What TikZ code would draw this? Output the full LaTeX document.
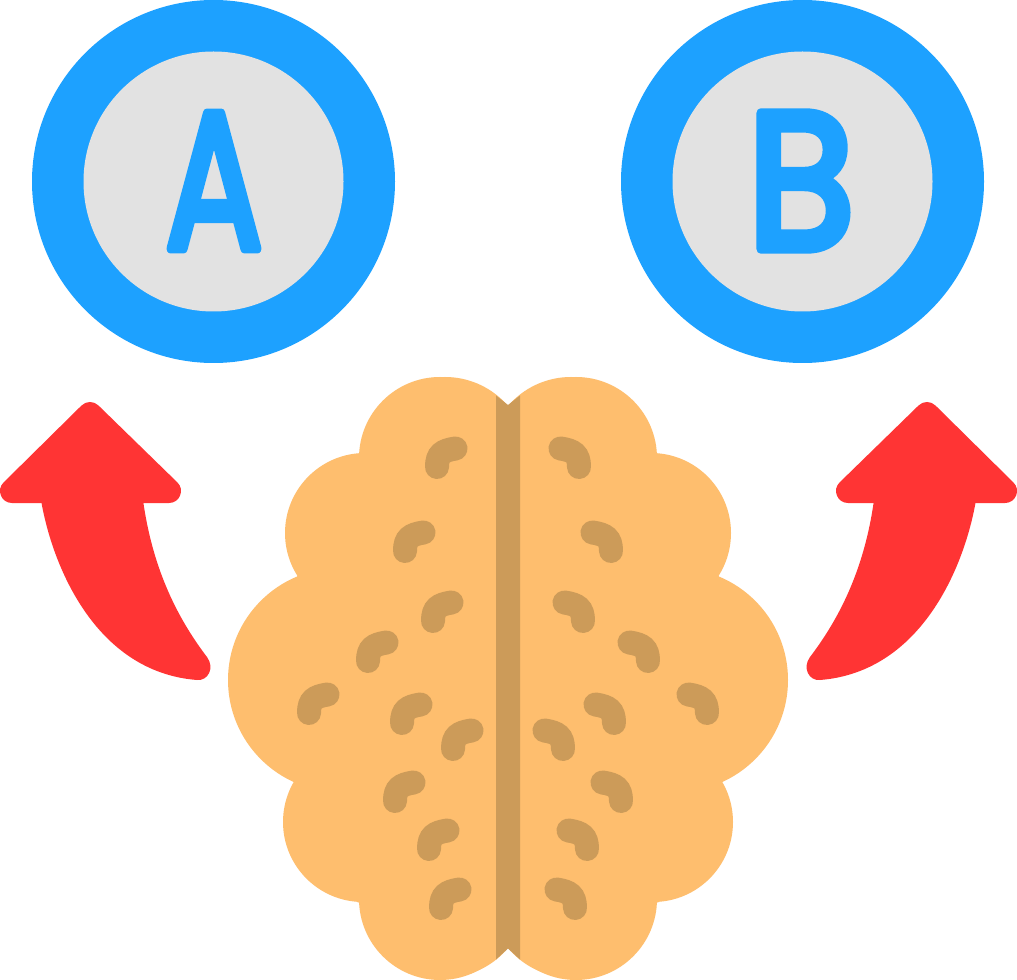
\documentclass[tikz,border=0pt]{standalone}
\usepackage{fontspec}
\newfontfamily\letterfont[FakeBold=5]{Poppins}
\definecolor{ringblue}{HTML}{1DA1FF}
\definecolor{discgray}{HTML}{E2E2E2}
\definecolor{brainbase}{HTML}{FEBE6E}
\definecolor{braindark}{HTML}{CC9B59}
\definecolor{arrowcol}{HTML}{FF3434}
\tikzset{
  ring/.style={fill=ringblue},
  disc/.style={fill=discgray},
  brainfill/.style={fill=brainbase},
  grooveband/.style={fill=braindark},
  bean/.style={draw=braindark,line width=18pt,line cap=round},
  arrowbody/.style={fill=arrowcol},
  arrowhead/.style={fill=arrowcol,draw=arrowcol,line width=18pt,line join=round},
  letter/.style={text=ringblue,inner sep=0pt,font=\fontsize{146}{146}\letterfont},
}
\newcommand{\brainhalf}{%
  \fill[brainfill] (440,458) circle[radius=81];
  \fill[brainfill] (445,460) circle[radius=83];
  \fill[brainfill] (365,533) circle[radius=80];
  \fill[brainfill] (340,680) circle[radius=112];
  \fill[brainfill] (363,822) circle[radius=80];
  \fill[brainfill] (440,899) circle[radius=81];
  \fill[brainfill] (445,895.5) circle[radius=82];
  \fill[brainfill] (508,405) -- (359,453) -- (297,577) -- (295,780) -- (357,902) -- (508,948) -- cycle;
  \foreach \x/\y in {437/467,405/551,433/621,368/661,309/713,402/723,453/749,395/801,429/849,441/908}{
    \draw[bean] (\x,\y) .. controls +(0,-13) and +(-13,2) .. +(18.5,-18.5);
  }
}
\newcommand{\redarrow}{%
  \fill[arrowbody] (41,500) .. controls (52,565) and (95,672) .. (197,680)
    .. controls (208,681) and (215,668) .. (207,657)
    .. controls (175,615) and (152,565) .. (143,500) -- cycle;
  \filldraw[arrowhead] (90,414) -- (12,491) -- (169,491) -- cycle;
}
\begin{document}
\begin{tikzpicture}[x=0.75pt,y=-0.75pt]
\useasboundingbox (0,0) rectangle (1017,980);
\fill[white] (0,0) rectangle (1017,980);
% discs
\fill[ring] (213.5,181.5) circle[radius=181.5];
\fill[disc] (213.5,181.5) circle[radius=130];
\fill[ring] (802.5,181.5) circle[radius=181.5];
\fill[disc] (802.5,181.5) circle[radius=130];
\node[letter,xscale=0.74] (letterA) at (214,181) {\special{pdf:code 1 j}A};
\node[letter,xscale=0.9] (letterB) at (801,181) {\special{pdf:code 1 j}B};
% arrows
\redarrow
\begin{scope}[shift={(1017,0)},xscale=-1]\redarrow\end{scope}
% brain
\brainhalf
\begin{scope}[shift={(1016,0)},xscale=-1]\brainhalf\end{scope}
\fill[grooveband] (496,395.5) -- (508,405) -- (520,395.5) -- (520,959.5) -- (508,948.5) -- (496,959.5) -- cycle;
\end{tikzpicture}
\end{document}
